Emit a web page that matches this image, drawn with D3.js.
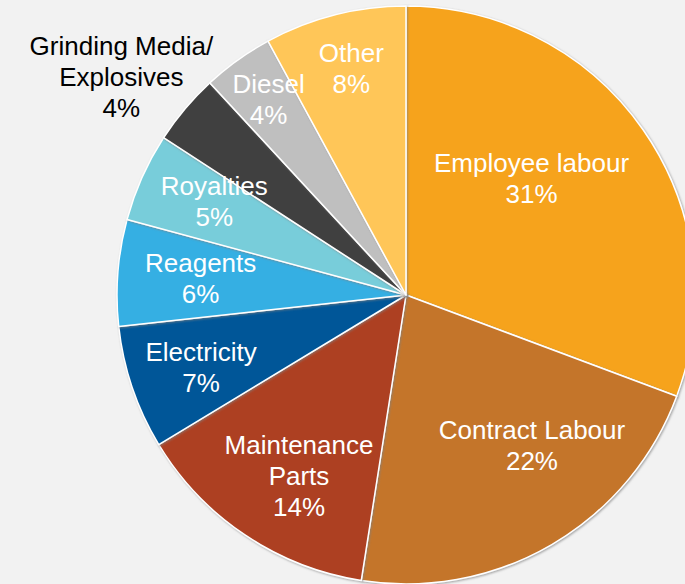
<!DOCTYPE html>
<html>
<head>
<meta charset="utf-8">
<script src="https://cdn.jsdelivr.net/npm/d3@7"></script>
<style>
  html, body { margin: 0; padding: 0; background: #f2f2f2; }
  svg { display: block; }
  .lbl { font-family: "Liberation Sans", Arial, sans-serif; font-size: 26px; }
</style>
</head>
<body>
<svg id="chart" width="685" height="584"></svg>
<script>
// cost categories, clockwise from 12 o'clock
var categories = ["Employee labour", "Contract Labour", "Maintenance Parts", "Electricity",
                  "Reagents", "Royalties", "Grinding Media/ Explosives", "Diesel", "Other"];
var values = [31, 22, 14, 7, 6, 5, 4, 4, 8];
var labelLines = [["Employee labour"], ["Contract Labour"], ["Maintenance", "Parts"], ["Electricity"],
                  ["Reagents"], ["Royalties"], ["Grinding Media/", "Explosives"], ["Diesel"], ["Other"]];
var colors = ["#f6a31e", "#c4752a", "#ad3f22", "#035798", "#35afe3", "#78cdda", "#404040", "#bfbfbf", "#ffc658"];
var textColors = ["#fff", "#fff", "#fff", "#fff", "#fff", "#fff", "#000", "#fff", "#fff"];
// label nudges from the arc centroid (px)
var nudge = [[-47, 3], [20, -31], [10, 7], [-6, 5], [4, 0], [0, -8], [-124, -83], [-15, -25], [-3, -23]];

var svg = d3.select("#chart"),
    cx = 406, cy = 295, radius = 289, lineH = 31;

var defs = svg.append("defs");
var f = defs.append("filter").attr("id", "shadow")
    .attr("x", "-10%").attr("y", "-10%").attr("width", "120%").attr("height", "120%");
f.append("feDropShadow").attr("dx", 1).attr("dy", 1).attr("stdDeviation", 1.2)
    .attr("flood-color", "#7f7f7f").attr("flood-opacity", 0.7);

var pie = d3.pie().sort(null).value(function(d) { return d; });
var arc = d3.arc().innerRadius(0).outerRadius(radius);
var labelArc = d3.arc().innerRadius(210).outerRadius(210);

var g = svg.append("g").attr("transform", "translate(" + cx + "," + cy + ")");
var arcs = pie(values);

g.selectAll(".slice")
  .data(arcs)
  .enter().append("path")
    .attr("class", "slice")
    .attr("d", arc)
    .attr("fill", function(d, i) { return colors[i]; })
    .attr("stroke", "#fff")
    .attr("stroke-width", 1.5)
    .attr("stroke-linejoin", "round")
    .attr("filter", "url(#shadow)");

var labels = g.selectAll(".lbl")
  .data(arcs)
  .enter().append("text")
    .attr("class", "lbl")
    .attr("text-anchor", "middle")
    .attr("fill", function(d, i) { return textColors[i]; })
    .attr("transform", function(d, i) {
        var c = labelArc.centroid(d);
        return "translate(" + (c[0] + nudge[i][0]) + "," + (c[1] + nudge[i][1]) + ")";
    });

labels.each(function(d, i) {
    var lines = labelLines[i].concat([values[i] + "%"]);
    var t = d3.select(this);
    var start = -(lines.length - 1) * lineH / 2;
    lines.forEach(function(s, k) {
        t.append("tspan")
          .attr("x", 0)
          .attr("y", start + k * lineH)
          .attr("dy", "0.35em")
          .text(s);
    });
});
</script>
</body>
</html>
